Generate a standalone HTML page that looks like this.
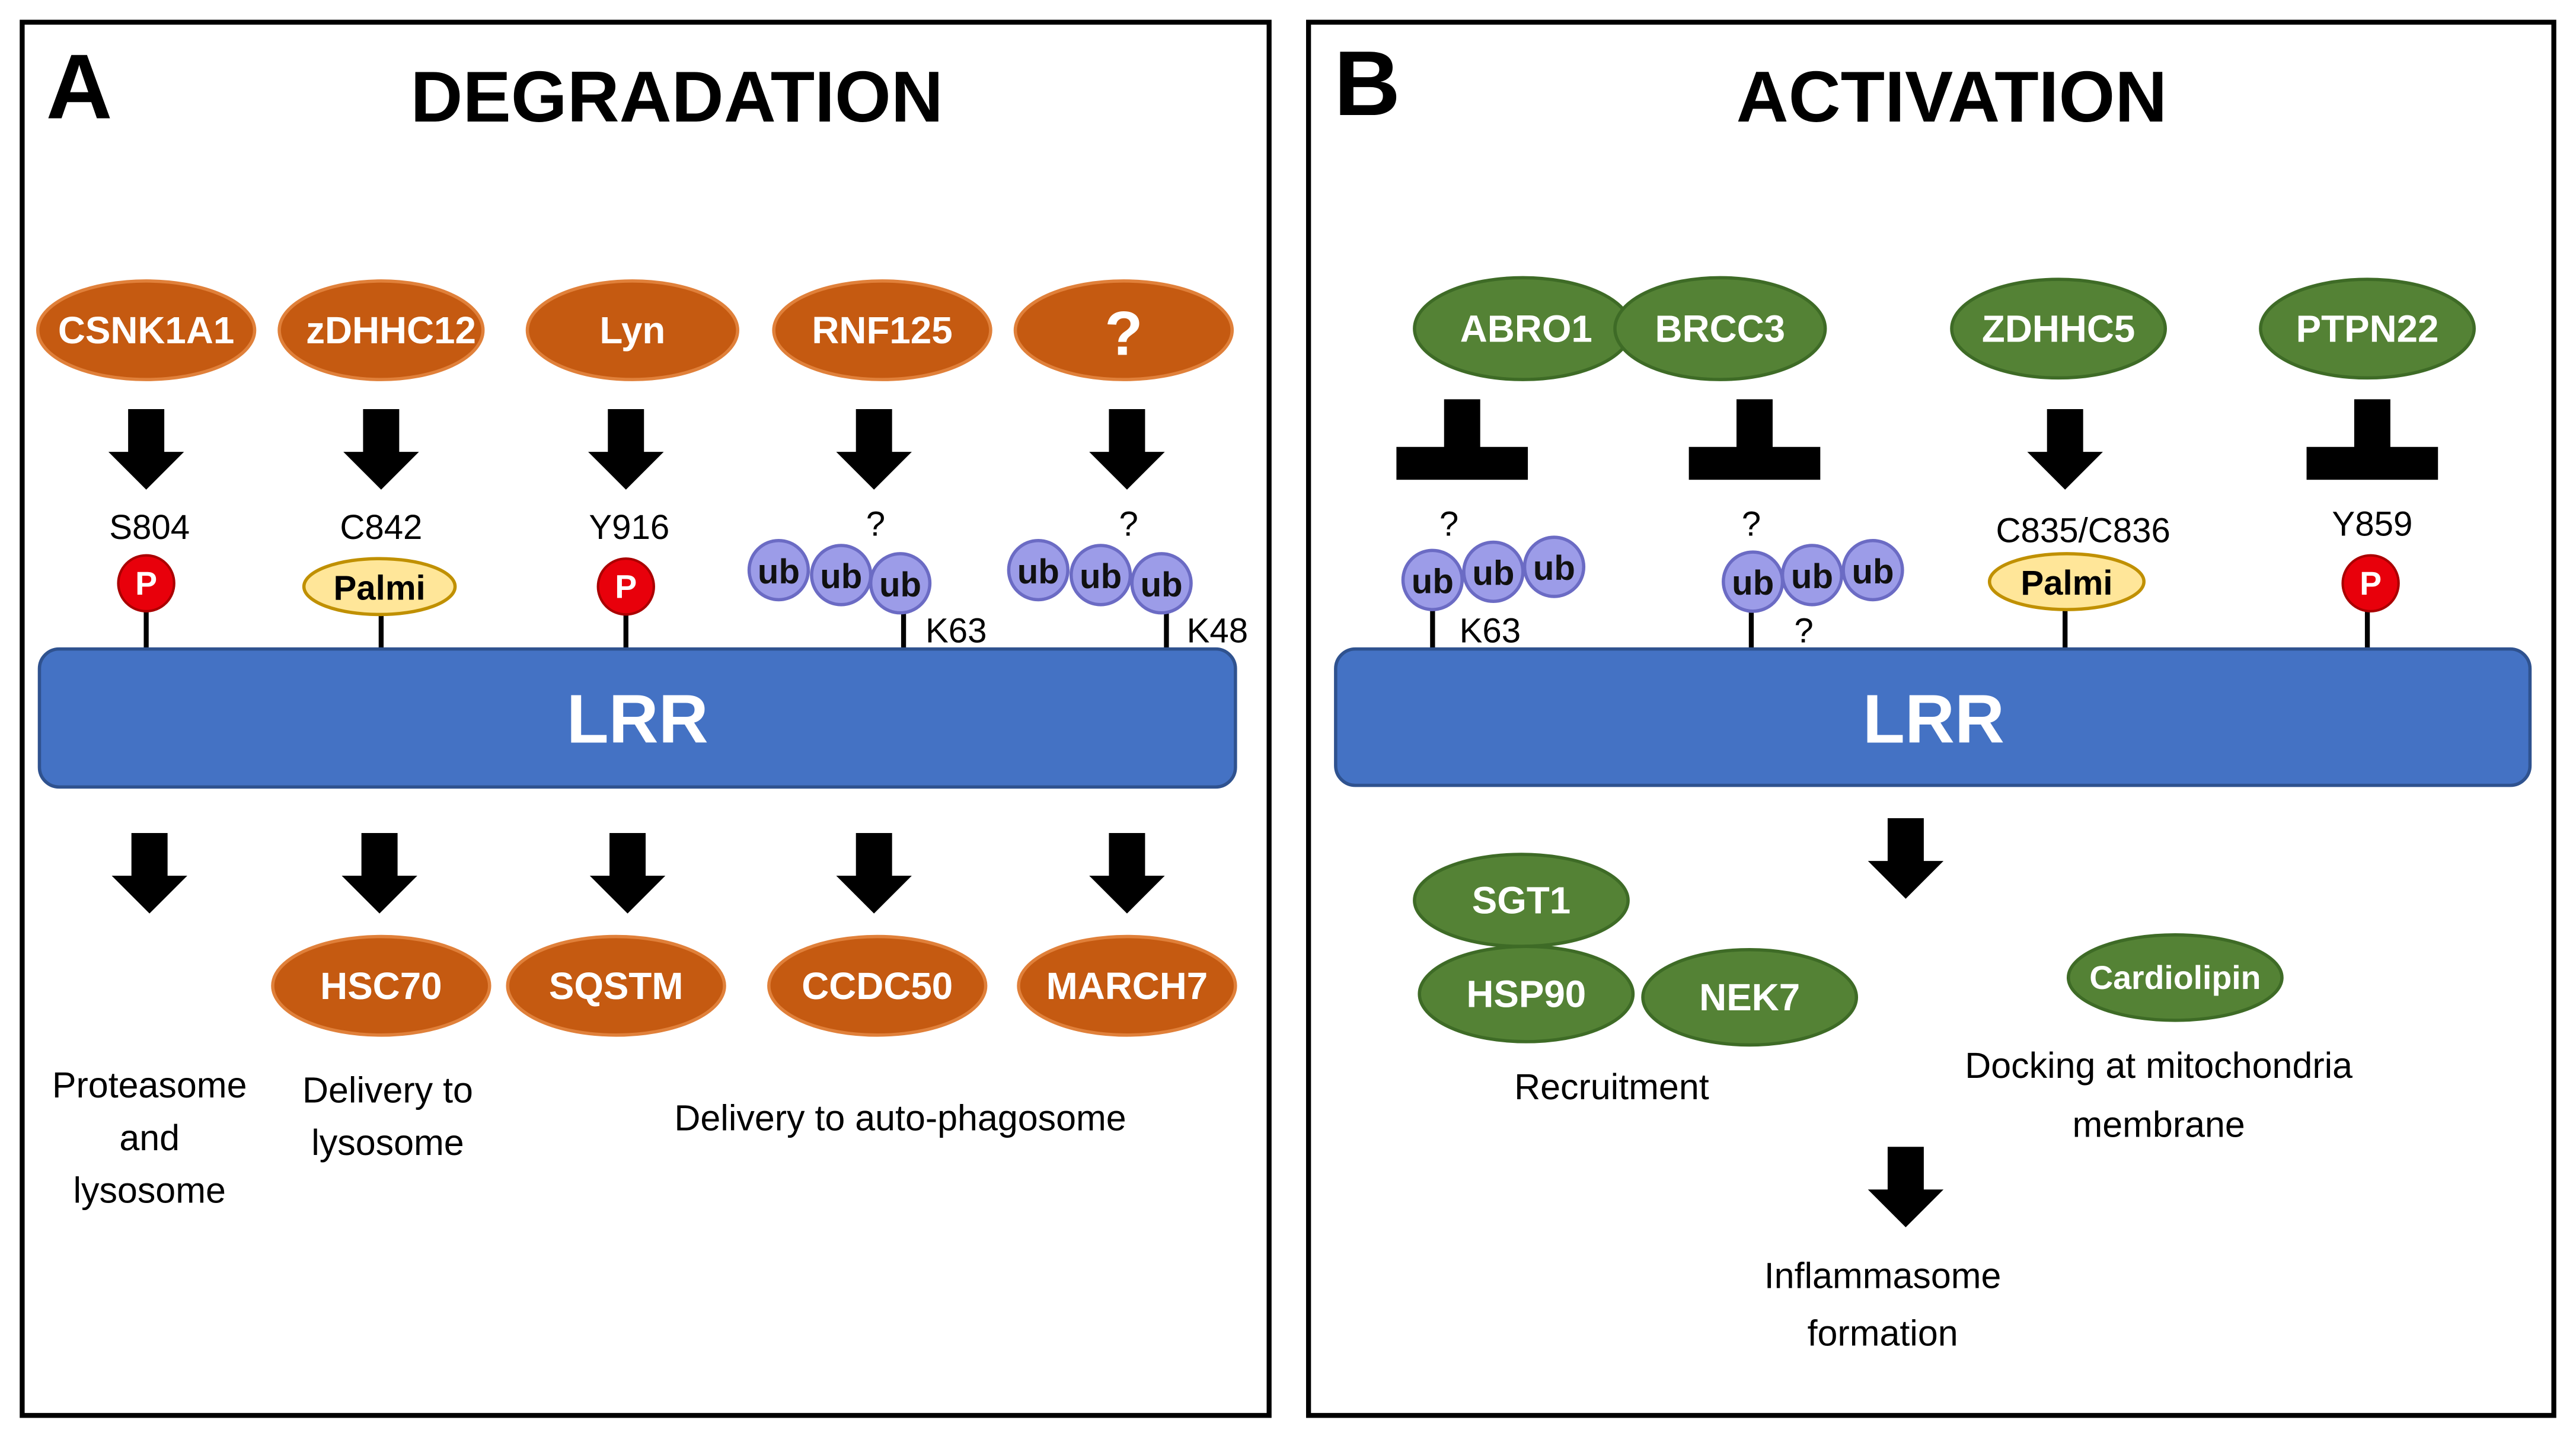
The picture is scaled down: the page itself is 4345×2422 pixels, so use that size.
<!DOCTYPE html>
<html><head><meta charset="utf-8"><style>
html,body{margin:0;padding:0;background:#fff;}
svg{display:block;}
text{font-family:"Liberation Sans",sans-serif;}
</style></head><body>
<svg width="4345" height="2422" viewBox="0 0 1568 874" xmlns="http://www.w3.org/2000/svg">
<defs>
<g id="dn"><path d="M-11,0 H11 V26 H23 L0,49 L-23,26 H-11 Z" fill="#000"/></g>
<g id="tb"><rect x="-11" y="0" width="22" height="32" fill="#000"/><rect x="-40" y="29" width="80" height="20" fill="#000"/></g>
</defs>
<rect width="1568" height="874" fill="#fff"/>
<rect x="13.5" y="13.5" width="759" height="848" fill="none" stroke="#000" stroke-width="3"/>
<rect x="796.5" y="13.5" width="758" height="848" fill="none" stroke="#000" stroke-width="3"/>

<text x="28" y="72" font-size="56" font-weight="bold">A</text>
<text x="412" y="74" font-size="44" font-weight="bold" text-anchor="middle">DEGRADATION</text>
<text x="812" y="70" font-size="56" font-weight="bold">B</text>
<text x="1188" y="74" font-size="44" font-weight="bold" text-anchor="middle">ACTIVATION</text>

<!-- Panel A top ellipses -->
<g fill="#C55A11" stroke="#E0803A" stroke-width="2">
<ellipse cx="89" cy="201" rx="66" ry="30"/><ellipse cx="232" cy="201" rx="62" ry="30"/>
<ellipse cx="385" cy="201" rx="64" ry="30"/><ellipse cx="537" cy="201" rx="66" ry="30"/>
<ellipse cx="684" cy="201" rx="66" ry="30"/>
</g>
<g fill="#fff" font-weight="bold" font-size="23" text-anchor="middle">
<text x="89" y="209">CSNK1A1</text><text x="238" y="209">zDHHC12</text><text x="385" y="209">Lyn</text>
<text x="537" y="209">RNF125</text><text x="684" y="216" font-size="38">?</text>
</g>
<use href="#dn" x="89" y="249"/><use href="#dn" x="232" y="249"/><use href="#dn" x="381" y="249"/>
<use href="#dn" x="532" y="249"/><use href="#dn" x="686" y="249"/>
<g font-size="21" text-anchor="middle">
<text x="91" y="328">S804</text><text x="232" y="328">C842</text><text x="383" y="328">Y916</text>
<text x="533" y="326">?</text><text x="687" y="326">?</text>
<text x="582" y="391">K63</text><text x="741" y="391">K48</text>
</g>
<g stroke="#000" stroke-width="3">
<line x1="89" y1="360" x2="89" y2="396"/><line x1="232" y1="360" x2="232" y2="396"/>
<line x1="381" y1="360" x2="381" y2="396"/><line x1="550" y1="360" x2="550" y2="396"/>
<line x1="710" y1="360" x2="710" y2="396"/>
</g>
<g fill="#E8000B" stroke="#A00" stroke-width="1.5"><circle cx="89" cy="355" r="17"/><circle cx="381" cy="357" r="17"/></g>
<g fill="#fff" font-weight="bold" font-size="20" text-anchor="middle"><text x="89" y="362">P</text><text x="381" y="364">P</text></g>
<ellipse cx="231" cy="357" rx="46" ry="17" fill="#FFE699" stroke="#C09000" stroke-width="2"/>
<text x="231" y="365" font-size="21" font-weight="bold" text-anchor="middle">Palmi</text>
<g fill="#9C9CE8" stroke="#6B6BC4" stroke-width="2">
<circle cx="474" cy="347" r="18"/><circle cx="512" cy="350" r="18"/><circle cx="548" cy="355" r="18"/>
<circle cx="632" cy="347" r="18"/><circle cx="670" cy="350" r="18"/><circle cx="707" cy="355" r="18"/>
</g>
<g font-weight="bold" font-size="21" text-anchor="middle" fill="#111">
<text x="474" y="355">ub</text><text x="512" y="358">ub</text><text x="548" y="363">ub</text>
<text x="632" y="355">ub</text><text x="670" y="358">ub</text><text x="707" y="363">ub</text>
</g>
<rect x="24" y="395" width="728" height="84" rx="12" fill="#4472C4" stroke="#2F528F" stroke-width="2"/>
<text x="388" y="452" font-size="42" font-weight="bold" fill="#fff" text-anchor="middle">LRR</text>
<use href="#dn" x="91" y="507"/><use href="#dn" x="231" y="507"/><use href="#dn" x="382" y="507"/>
<use href="#dn" x="532" y="507"/><use href="#dn" x="686" y="507"/>
<g fill="#C55A11" stroke="#E0803A" stroke-width="2">
<ellipse cx="232" cy="600" rx="66" ry="30"/><ellipse cx="375" cy="600" rx="66" ry="30"/>
<ellipse cx="534" cy="600" rx="66" ry="30"/><ellipse cx="686" cy="600" rx="66" ry="30"/>
</g>
<g fill="#fff" font-weight="bold" font-size="23" text-anchor="middle">
<text x="232" y="608">HSC70</text><text x="375" y="608">SQSTM</text><text x="534" y="608">CCDC50</text><text x="686" y="608">MARCH7</text>
</g>
<g font-size="22" text-anchor="middle">
<text x="91" y="668">Proteasome</text><text x="91" y="700">and</text><text x="91" y="732">lysosome</text>
<text x="236" y="671">Delivery to</text><text x="236" y="703">lysosome</text>
<text x="548" y="688">Delivery to auto-phagosome</text>
</g>

<!-- Panel B -->
<g fill="#548235" stroke="#3E6B26" stroke-width="2">
<ellipse cx="927" cy="200" rx="66" ry="31"/><ellipse cx="1047" cy="200" rx="64" ry="31"/>
<ellipse cx="1253" cy="200" rx="65" ry="30"/><ellipse cx="1441" cy="200" rx="65" ry="30"/>
</g>
<g fill="#fff" font-weight="bold" font-size="23" text-anchor="middle">
<text x="929" y="208">ABRO1</text><text x="1047" y="208">BRCC3</text><text x="1253" y="208">ZDHHC5</text><text x="1441" y="208">PTPN22</text>
</g>
<use href="#tb" x="890" y="243"/><use href="#tb" x="1068" y="243"/><use href="#tb" x="1444" y="243"/>
<use href="#dn" x="1257" y="249"/>
<g font-size="21" text-anchor="middle">
<text x="882" y="326">?</text><text x="1066" y="326">?</text>
<text x="1268" y="330">C835/C836</text><text x="1444" y="326">Y859</text>
<text x="907" y="391">K63</text><text x="1098" y="391">?</text>
</g>
<g stroke="#000" stroke-width="3">
<line x1="872" y1="360" x2="872" y2="396"/><line x1="1066" y1="360" x2="1066" y2="396"/>
<line x1="1257" y1="360" x2="1257" y2="396"/><line x1="1441" y1="360" x2="1441" y2="396"/>
</g>
<g fill="#9C9CE8" stroke="#6B6BC4" stroke-width="2">
<circle cx="946" cy="345" r="18"/><circle cx="909" cy="348" r="18"/><circle cx="872" cy="353" r="18"/>
<circle cx="1140" cy="347" r="18"/><circle cx="1103" cy="350" r="18"/><circle cx="1067" cy="354" r="18"/>
</g>
<g font-weight="bold" font-size="21" text-anchor="middle" fill="#111">
<text x="946" y="353">ub</text><text x="909" y="356">ub</text><text x="872" y="361">ub</text>
<text x="1140" y="355">ub</text><text x="1103" y="358">ub</text><text x="1067" y="362">ub</text>
</g>
<ellipse cx="1258" cy="354" rx="47" ry="17" fill="#FFE699" stroke="#C09000" stroke-width="2"/>
<text x="1258" y="362" font-size="21" font-weight="bold" text-anchor="middle">Palmi</text>
<circle cx="1443" cy="355" r="17" fill="#E8000B" stroke="#A00" stroke-width="1.5"/>
<text x="1443" y="362" fill="#fff" font-weight="bold" font-size="20" text-anchor="middle">P</text>
<rect x="813" y="395" width="727" height="83" rx="12" fill="#4472C4" stroke="#2F528F" stroke-width="2"/>
<text x="1177" y="452" font-size="42" font-weight="bold" fill="#fff" text-anchor="middle">LRR</text>
<use href="#dn" x="1160" y="498"/>
<g fill="#548235" stroke="#3E6B26" stroke-width="2">
<ellipse cx="926" cy="548" rx="65" ry="28"/><ellipse cx="929" cy="605" rx="65" ry="29"/>
<ellipse cx="1065" cy="607" rx="65" ry="29"/><ellipse cx="1324" cy="595" rx="65" ry="26"/>
</g>
<g fill="#fff" font-weight="bold" font-size="23" text-anchor="middle">
<text x="926" y="556">SGT1</text><text x="929" y="613">HSP90</text><text x="1065" y="615">NEK7</text>
<text x="1324" y="602" font-size="20">Cardiolipin</text>
</g>
<g font-size="22" text-anchor="middle">
<text x="981" y="669">Recruitment</text>
<text x="1314" y="656">Docking at mitochondria</text><text x="1314" y="692">membrane</text>
<text x="1146" y="784">Inflammasome</text><text x="1146" y="819">formation</text>
</g>
<use href="#dn" x="1160" y="698"/>
</svg>
</body></html>
